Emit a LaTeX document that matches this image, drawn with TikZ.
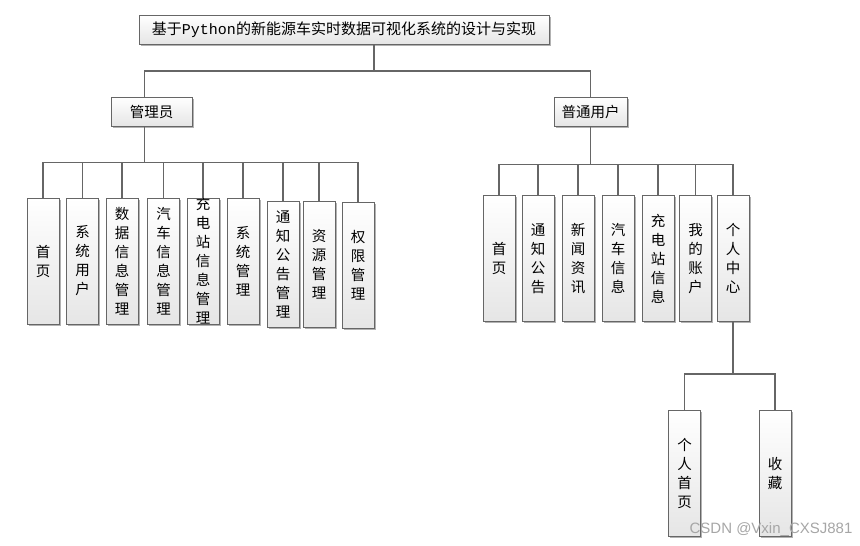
\documentclass[tikz,border=0pt]{standalone}
\usepackage{fontspec}
\setmainfont{Noto Sans CJK SC}
\newfontfamily\pymono{Liberation Mono}
\newfontfamily\wmfont{Liberation Sans}
\usetikzlibrary{shadows}

\begin{document}
\begin{tikzpicture}[x=1pt, y=-1pt, line width=1.2pt,
    link/.style={draw=black!60},
    box/.style={draw=black!60, line width=1pt, top color=white, bottom color=black!10,
        drop shadow={shadow xshift=1.5pt, shadow yshift=-1.5pt, fill=black!30, opacity=1},
        inner sep=0pt},
    head/.style={box, minimum height=29pt, font=\fontsize{14.5}{16}\selectfont},
    leaf/.style={box, minimum width=32pt, minimum height=126pt},
    vtext/.style={align=center, inner sep=0pt, font=\fontsize{14.5}{19}\selectfont}]
    \useasboundingbox (0,0) rectangle (860,546);
    % Top level
    \node[head, minimum width=410pt, font=\fontsize{15}{17}\selectfont] (title) at (344,29.5)
        {基于{\pymono Python}的新能源车实时数据可视化系统的设计与实现};
    \node[head, minimum width=81pt] (admin) at (151.5,111.5) {管理员};
    \node[head, minimum width=73pt] (user) at (590.5,111.5) {普通用户};
    \coordinate (rbus) at (374,71);
    \draw[link] (rbus |- title.south) -- (rbus);
    \draw[link] ([xshift=-7pt]admin.north) |- (rbus) -| (user.north);
    % Admin modules
    \draw[link] ([xshift=-7pt]admin.south) -- ++(0,36) coordinate (abus);
    \foreach \i/\x/\y/\t in {1/43/261/{首\\页}, 2/82.5/261/{系\\统\\用\\户},
        3/122/261/{数\\据\\信\\息\\管\\理}, 4/163.5/261/{汽\\车\\信\\息\\管\\理},
        5/203/261/{充\\电\\站\\信\\息\\管\\理}, 6/243/261/{系\\统\\管\\理},
        7/283/264/{通\\知\\公\\告\\管\\理}, 8/319/264/{资\\源\\管\\理},
        9/358/265.5/{权\\限\\管\\理}} {
        \node[leaf] (a\i) at (\x,\y) {};
        \node[vtext] (a\i-t) at (a\i) {\t};
        \draw[link] (abus) -| (a\i.north);
    }
    % User modules
    \draw[link] (user.south) -- ++(0,38) coordinate (ubus);
    \foreach \i/\x/\t in {1/499/{首\\页}, 2/538/{通\\知\\公\\告}, 3/578/{新\\闻\\资\\讯},
        4/618/{汽\\车\\信\\息}, 5/658/{充\\电\\站\\信\\息}, 6/695.5/{我\\的\\账\\户},
        7/733/{个\\人\\中\\心}} {
        \node[leaf] (u\i) at (\x,258.5) {};
        \node[vtext] (u\i-t) at (u\i) {\t};
        \draw[link] (ubus) -| (u\i.north);
    }
    % Personal center
    \draw[link] (u7.south) -- ++(0,52) coordinate (pbus);
    \foreach \i/\x/\t in {1/684.5/{个\\人\\首\\页}, 2/775/{收\\藏}} {
        \node[leaf] (p\i) at (\x,473) {};
        \node[vtext] (p\i-t) at (p\i) {\t};
        \draw[link] (pbus) -| (p\i.north);
    }
    \node[font=\wmfont\fontsize{15}{15}\selectfont, text=black!35] (mark) at (771,530)
        {CSDN @Vxin\_CXSJ881};
\end{tikzpicture}
\end{document}
